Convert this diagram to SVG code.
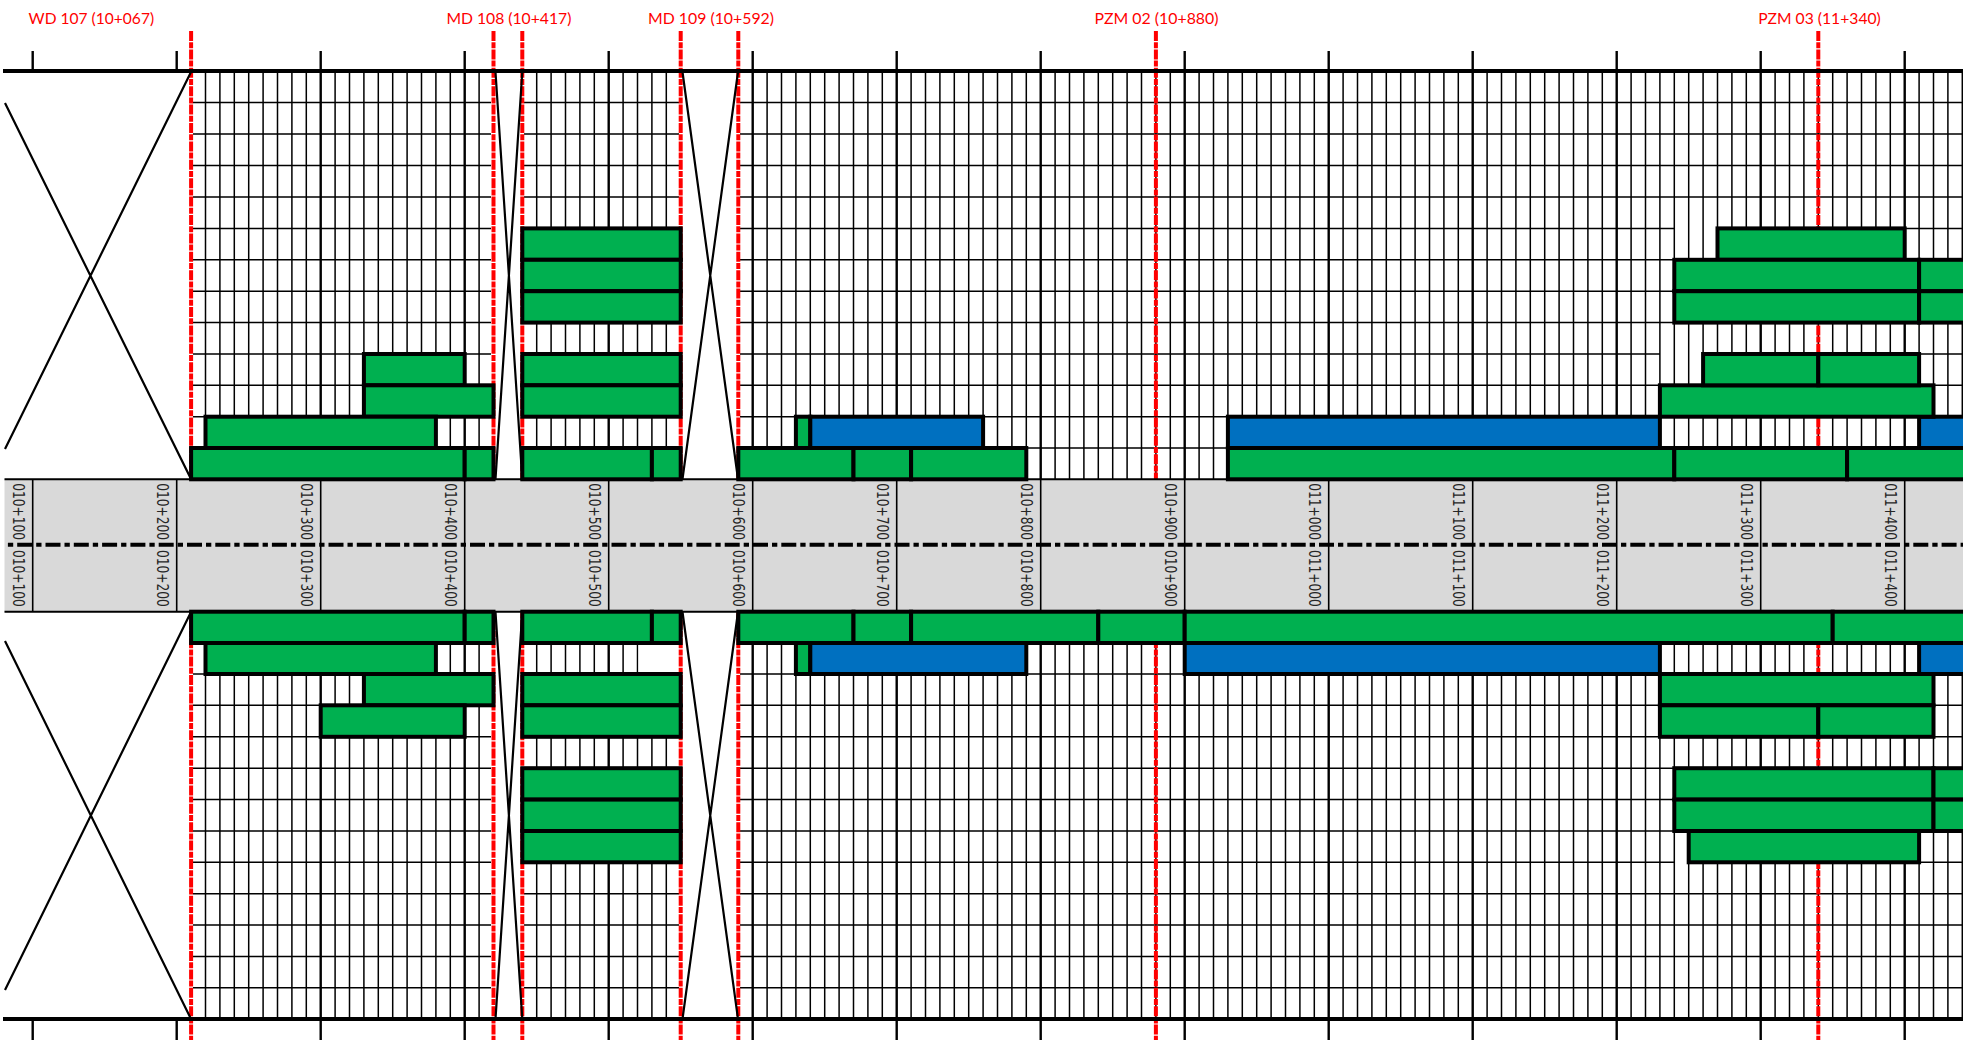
<svg xmlns="http://www.w3.org/2000/svg" xmlns:xlink="http://www.w3.org/1999/xlink" width="1968" height="1040" viewBox="0 0 1968 1040">
<style>
.h{stroke:#000;stroke-width:1.5;fill:none}
.m{stroke:#000;stroke-width:1.5;fill:none}
.j{stroke:#000;stroke-width:2.4;fill:none}
.r{stroke:#f00;stroke-width:4;stroke-dasharray:10 1.2 6 1.2;fill:none}
.x{stroke:#000;stroke-width:2.2;fill:none}
.g{fill:#00B050;stroke:#000;stroke-width:4}
.b{fill:#0070C0;stroke:#000;stroke-width:4}
.s{font:12.2px "DejaVu Sans",sans-serif;fill:#262626}
.l{font:15.5px Lato,"Open Sans",sans-serif;fill:#f00}
</style>
<defs>
<clipPath id="c"><rect x="3" y="0" width="1960" height="1040"/></clipPath>
<path id="minor" d="M205.5 0v408M219.9 0v408M234.3 0v408M248.7 0v408M263.1 0v408M277.5 0v408M291.9 0v408M306.3 0v408M335.1 0v408M349.5 0v408M363.9 0v408M378.3 0v408M392.7 0v408M407.1 0v408M421.5 0v408M435.9 0v408M450.3 0v408M479.1 0v408M536.7 0v408M551.1 0v408M565.5 0v408M579.9 0v408M594.3 0v408M623.1 0v408M637.5 0v408M651.9 0v408M666.3 0v408M767.1 0v408M781.5 0v408M795.9 0v408M810.3 0v408M824.7 0v408M839.1 0v408M853.5 0v408M867.9 0v408M882.3 0v408M911.1 0v408M925.5 0v408M939.9 0v408M954.3 0v408M968.7 0v408M983.1 0v408M997.5 0v408M1011.9 0v408M1026.3 0v408M1055.1 0v408M1069.5 0v408M1083.9 0v408M1098.3 0v408M1112.7 0v408M1127.1 0v408M1141.5 0v408M1155.9 0v408M1170.3 0v408M1199.1 0v408M1213.5 0v408M1227.9 0v408M1242.3 0v408M1256.7 0v408M1271.1 0v408M1285.5 0v408M1299.9 0v408M1314.3 0v408M1343.1 0v408M1357.5 0v408M1371.9 0v408M1386.3 0v408M1400.7 0v408M1415.1 0v408M1429.5 0v408M1443.9 0v408M1458.3 0v408M1487.1 0v408M1501.5 0v408M1515.9 0v408M1530.3 0v408M1544.7 0v408M1559.1 0v408M1573.5 0v408M1587.9 0v408M1602.3 0v408M1631.1 0v408M1645.5 0v408M1659.9 0v408M1674.3 0v408M1688.7 0v408M1703.1 0v408M1717.5 0v408M1731.9 0v408M1746.3 0v408M1775.1 0v408M1789.5 0v408M1803.9 0v408M1818.3 0v408M1832.7 0v408M1847.1 0v408M1861.5 0v408M1875.9 0v408M1890.3 0v408M1919.1 0v408M1933.5 0v408M1947.9 0v408M1962.3 0v408"/>
<path id="row" d="M193 0H491M524 0H679M740 0H1963"/>
</defs>
<rect width="1968" height="1040" fill="#fff"/>
<g clip-path="url(#c)">
<g id="grid">
<g class="h">
<use xlink:href="#row" y="102.5"/><use xlink:href="#row" y="134"/><use xlink:href="#row" y="165.5"/><use xlink:href="#row" y="197"/><use xlink:href="#row" y="228.4"/><use xlink:href="#row" y="259.8"/><use xlink:href="#row" y="291.2"/><use xlink:href="#row" y="322.6"/><use xlink:href="#row" y="354"/><use xlink:href="#row" y="385.3"/><use xlink:href="#row" y="416.7"/><use xlink:href="#row" y="448"/>
<use xlink:href="#row" y="643"/><use xlink:href="#row" y="674"/><use xlink:href="#row" y="705.3"/><use xlink:href="#row" y="736.8"/><use xlink:href="#row" y="768.2"/><use xlink:href="#row" y="799.6"/><use xlink:href="#row" y="831"/><use xlink:href="#row" y="862.3"/><use xlink:href="#row" y="893.7"/><use xlink:href="#row" y="925"/><use xlink:href="#row" y="956.4"/><use xlink:href="#row" y="987.8"/>
</g>
<path d="M1675 228.4H1717M1660 354H1703M1675 862.3H1689" stroke="#fff" stroke-width="3" fill="none"/>
<g class="m">
<use xlink:href="#minor" y="71"/><use xlink:href="#minor" y="611"/>
</g>
<rect x="638.5" y="644.5" width="41" height="28" fill="#fff"/>
<path class="j" d="M320.7 51V1040M464.7 51V1040M608.7 51V1040M752.7 51V1040M896.7 51V1040M1040.7 51V1040M1184.7 51V1040M1328.7 51V1040M1472.7 51V1040M1616.7 51V1040M1760.7 51V1040M1904.7 51V1040M32.7 51V71M176.7 51V71M32.7 1019V1040M176.7 1019V1040"/>
</g>
<g id="stations">
<path class="r" d="M191.1 31V1040M493.5 31V1040M522.3 31V1040M680.7 31V1040M738.3 31V1040M1155.9 31V1040M1818.3 31V1040"/>
</g>
<g id="crosses">
<path class="x" d="M191 72L5 449M5 103L191 479M191 612L5 990M5 641L191 1019M495.5 72L522.3 479M522.3 72L495.5 479M495.5 612L522.3 1019M522.3 612L495.5 1019M682.5 72L738 479M738 72L682.5 479M682.5 612L738 1019M738 612L682.5 1019"/>
</g>
<path id="top-line" d="M3 71H1963M3 1019H1963" stroke="#000" stroke-width="4" fill="none"/>
<g id="road">
<rect x="4.5" y="479.3" width="1960" height="132.4" fill="#D9D9D9"/>
<path d="M32.7 479V612M176.7 479V612M320.7 479V612M464.7 479V612M608.7 479V612M752.7 479V612M896.7 479V612M1040.7 479V612M1184.7 479V612M1328.7 479V612M1472.7 479V612M1616.7 479V612M1760.7 479V612M1904.7 479V612" stroke="#000" stroke-width="1.6" fill="none"/>
<path d="M4.5 479.3H1963M4.5 611.7H1963" stroke="#000" stroke-width="2" fill="none"/>
<path d="M4.5 544.7H1963" stroke="#000" stroke-width="4" stroke-dasharray="15 4 5.3 4" stroke-dashoffset="15.6" fill="none"/>
</g>
<g id="chainage" class="s">
<text transform="translate(13.4,483.3) rotate(90) scale(1,1.25)">010+100</text><text transform="translate(13.4,550) rotate(90) scale(1,1.25)">010+100</text>
<text transform="translate(157.4,483.3) rotate(90) scale(1,1.25)">010+200</text><text transform="translate(157.4,550) rotate(90) scale(1,1.25)">010+200</text>
<text transform="translate(301.4,483.3) rotate(90) scale(1,1.25)">010+300</text><text transform="translate(301.4,550) rotate(90) scale(1,1.25)">010+300</text>
<text transform="translate(445.4,483.3) rotate(90) scale(1,1.25)">010+400</text><text transform="translate(445.4,550) rotate(90) scale(1,1.25)">010+400</text>
<text transform="translate(589.4,483.3) rotate(90) scale(1,1.25)">010+500</text><text transform="translate(589.4,550) rotate(90) scale(1,1.25)">010+500</text>
<text transform="translate(733.4,483.3) rotate(90) scale(1,1.25)">010+600</text><text transform="translate(733.4,550) rotate(90) scale(1,1.25)">010+600</text>
<text transform="translate(877.4,483.3) rotate(90) scale(1,1.25)">010+700</text><text transform="translate(877.4,550) rotate(90) scale(1,1.25)">010+700</text>
<text transform="translate(1021.4,483.3) rotate(90) scale(1,1.25)">010+800</text><text transform="translate(1021.4,550) rotate(90) scale(1,1.25)">010+800</text>
<text transform="translate(1165.4,483.3) rotate(90) scale(1,1.25)">010+900</text><text transform="translate(1165.4,550) rotate(90) scale(1,1.25)">010+900</text>
<text transform="translate(1309.4,483.3) rotate(90) scale(1,1.25)">011+000</text><text transform="translate(1309.4,550) rotate(90) scale(1,1.25)">011+000</text>
<text transform="translate(1453.4,483.3) rotate(90) scale(1,1.25)">011+100</text><text transform="translate(1453.4,550) rotate(90) scale(1,1.25)">011+100</text>
<text transform="translate(1597.4,483.3) rotate(90) scale(1,1.25)">011+200</text><text transform="translate(1597.4,550) rotate(90) scale(1,1.25)">011+200</text>
<text transform="translate(1741.4,483.3) rotate(90) scale(1,1.25)">011+300</text><text transform="translate(1741.4,550) rotate(90) scale(1,1.25)">011+300</text>
<text transform="translate(1885.4,483.3) rotate(90) scale(1,1.25)">011+400</text><text transform="translate(1885.4,550) rotate(90) scale(1,1.25)">011+400</text>
</g>
<g id="bars-upper">
<rect class="g" x="522.3" y="228.4" width="158.4" height="31.4"/><rect class="g" x="522.3" y="259.8" width="158.4" height="31.4"/><rect class="g" x="522.3" y="291.2" width="158.4" height="31.4"/>
<rect class="g" x="363.9" y="354" width="100.8" height="31.3"/><rect class="g" x="363.9" y="385.3" width="129.6" height="31.4"/>
<rect class="g" x="522.3" y="354" width="158.4" height="31.3"/><rect class="g" x="522.3" y="385.3" width="158.4" height="31.4"/>
<rect class="g" x="205.5" y="416.7" width="230.4" height="31.3"/>
<rect class="g" x="191.1" y="448" width="273.6" height="31.3"/><rect class="g" x="464.7" y="448" width="28.8" height="31.3"/>
<rect class="g" x="522.3" y="448" width="129.6" height="31.3"/><rect class="g" x="651.9" y="448" width="28.8" height="31.3"/>
<rect class="g" x="738.3" y="448" width="115.2" height="31.3"/><rect class="g" x="853.5" y="448" width="57.6" height="31.3"/><rect class="g" x="911.1" y="448" width="115.2" height="31.3"/>
<rect class="g" x="795.9" y="416.7" width="14.4" height="31.3"/><rect class="b" x="810.3" y="416.7" width="172.8" height="31.3"/>
<rect class="b" x="1227.9" y="416.7" width="432" height="31.3"/><rect class="b" x="1919.1" y="416.7" width="60" height="31.3"/>
<rect class="g" x="1227.9" y="448" width="446.4" height="31.3"/><rect class="g" x="1674.3" y="448" width="172.8" height="31.3"/><rect class="g" x="1847.1" y="448" width="130" height="31.3"/>
<rect class="g" x="1659.9" y="385.3" width="273.6" height="31.4"/>
<rect class="g" x="1703.1" y="354" width="115.2" height="31.3"/><rect class="g" x="1818.3" y="354" width="100.8" height="31.3"/>
<rect class="g" x="1717.5" y="228.4" width="187.2" height="31.4"/>
<rect class="g" x="1674.3" y="259.8" width="244.8" height="31.4"/><rect class="g" x="1919.1" y="259.8" width="60" height="31.4"/>
<rect class="g" x="1674.3" y="291.2" width="244.8" height="31.4"/><rect class="g" x="1919.1" y="291.2" width="60" height="31.4"/>
</g>
<g id="bars-lower">
<rect class="g" x="191.1" y="611.7" width="273.6" height="31.3"/><rect class="g" x="464.7" y="611.7" width="28.8" height="31.3"/>
<rect class="g" x="205.5" y="643" width="230.4" height="31"/>
<rect class="g" x="522.3" y="611.7" width="129.6" height="31.3"/><rect class="g" x="651.9" y="611.7" width="28.8" height="31.3"/>
<rect class="g" x="363.9" y="674" width="129.6" height="31.3"/><rect class="g" x="320.7" y="705.3" width="144" height="31.5"/>
<rect class="g" x="522.3" y="674" width="158.4" height="31.3"/><rect class="g" x="522.3" y="705.3" width="158.4" height="31.5"/>
<rect class="g" x="522.3" y="768.2" width="158.4" height="31.4"/><rect class="g" x="522.3" y="799.6" width="158.4" height="31.4"/><rect class="g" x="522.3" y="831" width="158.4" height="31.3"/>
<rect class="g" x="738.3" y="611.7" width="115.2" height="31.3"/><rect class="g" x="853.5" y="611.7" width="57.6" height="31.3"/><rect class="g" x="911.1" y="611.7" width="187.2" height="31.3"/><rect class="g" x="1098.3" y="611.7" width="86.4" height="31.3"/><rect class="g" x="1184.7" y="611.7" width="648" height="31.3"/><rect class="g" x="1832.7" y="611.7" width="140" height="31.3"/>
<rect class="g" x="795.9" y="643" width="14.4" height="31"/><rect class="b" x="810.3" y="643" width="216" height="31"/>
<rect class="b" x="1184.7" y="643" width="475.2" height="31"/><rect class="b" x="1919.1" y="643" width="60" height="31"/>
<rect class="g" x="1659.9" y="674" width="273.6" height="31.3"/>
<rect class="g" x="1659.9" y="705.3" width="158.4" height="31.5"/><rect class="g" x="1818.3" y="705.3" width="115.2" height="31.5"/>
<rect class="g" x="1674.3" y="768.2" width="259.2" height="31.4"/><rect class="g" x="1933.5" y="768.2" width="40" height="31.4"/>
<rect class="g" x="1674.3" y="799.6" width="259.2" height="31.4"/><rect class="g" x="1933.5" y="799.6" width="40" height="31.4"/>
<rect class="g" x="1688.7" y="831" width="230.4" height="31.3"/>
</g>
</g>
<g id="labels" class="l">
<text x="28.6" y="24" textLength="125.5" lengthAdjust="spacingAndGlyphs">WD 107 (10+067)</text>
<text x="446.4" y="24" textLength="125" lengthAdjust="spacingAndGlyphs">MD 108 (10+417)</text>
<text x="648" y="24" textLength="126" lengthAdjust="spacingAndGlyphs">MD 109 (10+592)</text>
<text x="1094.5" y="24" textLength="124" lengthAdjust="spacingAndGlyphs">PZM 02 (10+880)</text>
<text x="1758.2" y="24" textLength="122.6" lengthAdjust="spacingAndGlyphs">PZM 03 (11+340)</text>
</g>
</svg>
